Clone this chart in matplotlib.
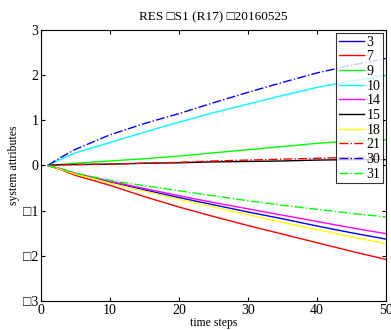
import matplotlib
matplotlib.use('Agg')
import matplotlib.pyplot as plt

plt.rcParams['font.family'] = ['Liberation Serif', 'DejaVu Serif']

steps = [1, 2, 3, 5, 10, 15, 20, 25, 30, 35, 40, 45, 50]

s3 = [0, -0.04, -0.08, -0.18, -0.37, -0.54, -0.71, -0.87, -1.03, -1.18, -1.34, -1.49, -1.63]
s7 = [0, -0.05, -0.10, -0.22, -0.44, -0.69, -0.92, -1.13, -1.33, -1.52, -1.71, -1.90, -2.08]
s9 = [0, 0.01, 0.02, 0.05, 0.10, 0.15, 0.21, 0.28, 0.35, 0.42, 0.49, 0.54, 0.57]
s10 = [0, 0.08, 0.15, 0.28, 0.51, 0.74, 0.96, 1.17, 1.36, 1.55, 1.73, 1.87, 1.99]
s14 = [0, -0.04, -0.08, -0.17, -0.35, -0.51, -0.67, -0.82, -0.96, -1.10, -1.24, -1.38, -1.51]
s15 = [0, 0.01, 0.02, 0.02, 0.03, 0.05, 0.06, 0.08, 0.09, 0.10, 0.12, 0.13, 0.13]
s18 = [0, -0.04, -0.09, -0.19, -0.39, -0.57, -0.75, -0.92, -1.09, -1.26, -1.42, -1.58, -1.73]
s21 = [0, 0.0, 0.01, 0.02, 0.03, 0.05, 0.07, 0.10, 0.12, 0.14, 0.16, 0.18, 0.20]
s30 = [0, 0.10, 0.19, 0.36, 0.68, 0.93, 1.15, 1.39, 1.62, 1.84, 2.05, 2.22, 2.37]
s31 = [0, -0.04, -0.08, -0.17, -0.33, -0.45, -0.56, -0.67, -0.78, -0.88, -0.97, -1.06, -1.14]

labels = ['3', '7', '9', '10', '14', '15', '18', '21', '30', '31']
series = [s3, s7, s9, s10, s14, s15, s18, s21, s30, s31]
colors = ['#0000ff', '#ff0000', '#00ff00', '#00ffff', '#ff00ff',
          '#000000', '#ffff00', '#ff0000', '#0000ff', '#00ff00']
styles = ['-', '-', '-', '-', '-', '-', '-', '-.', '-.', '-.']

xticks = [0, 10, 20, 30, 40, 50]
yticks = [3, 2, 1, 0, -1, -2, -3]
ytick_labels = ['3', '2', '1', '0', '\u25a11', '\u25a12', '\u25a13']

fig = plt.figure(figsize=(3.91, 3.30), dpi=100)
ax = fig.add_axes([0.105, 0.088, 0.882, 0.821])

for y, lab, c, ls in zip(series, labels, colors, styles):
    ax.plot(steps, y, color=c, linestyle=ls, linewidth=1, label=lab)

ax.set_xlim(0, 50)
ax.set_ylim(-3, 3)
ax.set_xticks(xticks)
ax.set_yticks(yticks)
ax.set_yticklabels(ytick_labels)
ax.tick_params(direction='in', top=True, right=True, labelsize=10, length=3, pad=2)
for spine in ['left', 'right', 'top', 'bottom']:
    ax.spines[spine].set_linewidth(0.8)

ax.set_xlabel('time steps', fontsize=8.5, labelpad=0)
ax.set_ylabel('system attributes', fontsize=8.5, labelpad=2)
ax.set_title('RES \u25a1S1 (R17) \u25a120160525', fontsize=9.5, pad=7)

leg = ax.legend(loc='upper right', fontsize=10, frameon=True, fancybox=False,
                edgecolor='black', handlelength=1.8, handletextpad=0.2,
                labelspacing=0.12, borderpad=0.2, borderaxespad=0.2)
leg.get_frame().set_linewidth(0.8)

plt.savefig('out.png', dpi=100)
